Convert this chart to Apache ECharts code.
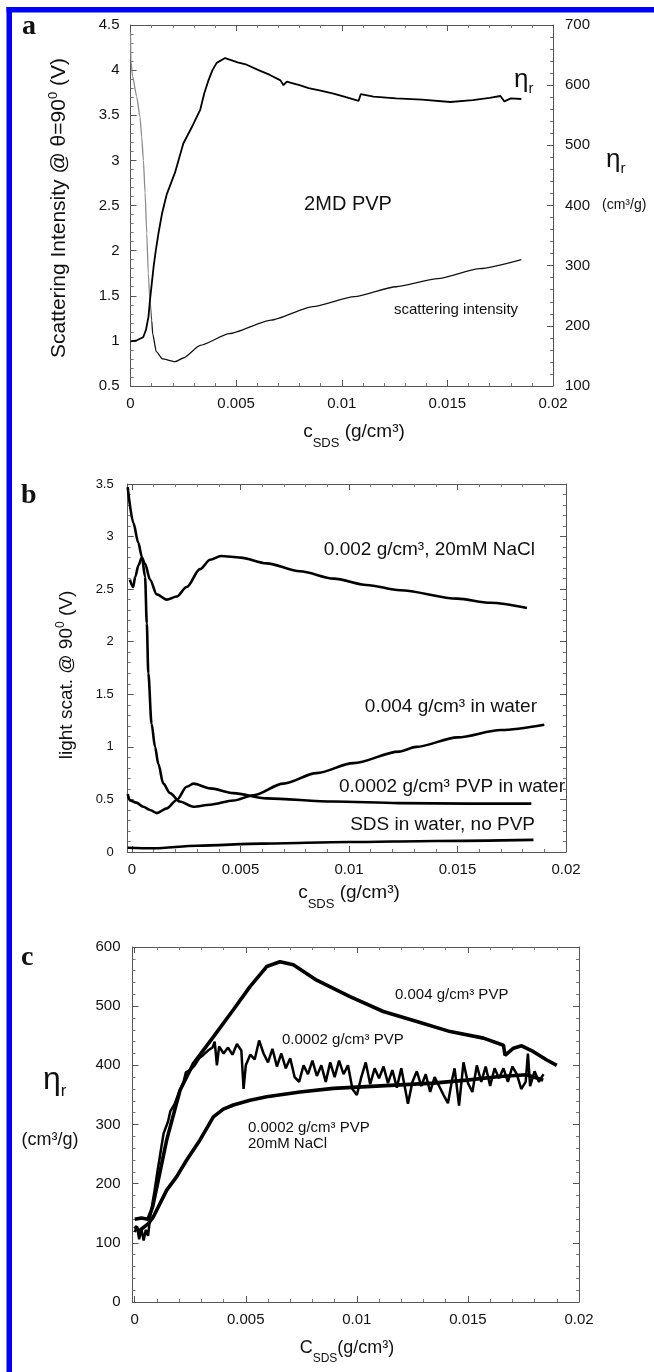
<!DOCTYPE html>
<html><head><meta charset="utf-8">
<script src="https://cdn.jsdelivr.net/npm/echarts@6/dist/echarts.min.js"></script>
<style>html,body{margin:0;padding:0;background:#fff}#c{width:654px;height:1372px}</style>
</head><body><div id="c"></div>
<script>
const FONT = 'Liberation Sans';
const SERIF = 'Liberation Serif';

// ---------------- tick labels ----------------
const xTickValues = [0, 0.005, 0.01, 0.015, 0.02];
const xTickLabels = ['0', '0.005', '0.01', '0.015', '0.02'];

// ---------------- panel a (2MD PVP) ----------------
// scattering intensity (V), left axis
const aScatter = [[0,4.42],[0.00002,4.1],[0.0001,3.93],[0.00029,3.71],[0.00045,3.48],[0.00053,3.26],[0.00061,3.0],[0.00069,2.64],[0.00077,2.19],[0.00084,1.75],[0.00092,1.45],[0.001,1.23],[0.00105,1.08],[0.00122,0.88],[0.00152,0.80],[0.00211,0.77],[0.0025,0.81],[0.0033,0.95],[0.00468,1.08],[0.00665,1.23],[0.00863,1.38],[0.0106,1.49],[0.01257,1.60],[0.01455,1.69],[0.01653,1.80],[0.0185,1.90]];
const aScatterGreyUntil = 0.00105; // faint (grey) descending branch
// reduced viscosity eta_r (cm3/g), right axis
const aEta = [[0,174],[0.0003,176],[0.0006,181],[0.00073,193],[0.00085,215],[0.00092,242],[0.001,268],[0.0011,300],[0.0012,326],[0.00132,353],[0.0015,388],[0.00171,418],[0.00211,455],[0.0025,503],[0.0029,530],[0.0032,552],[0.0033,559],[0.00349,586],[0.00369,608],[0.00388,625],[0.00408,637],[0.00448,645],[0.00507,638],[0.0055,634],[0.00606,625],[0.0066,617],[0.0071,608],[0.00724,600],[0.0074,606],[0.0076,604],[0.008,600],[0.00843,595],[0.009,591],[0.00961,586],[0.0102,580],[0.0108,574],[0.0109,585],[0.0115,581],[0.01257,578],[0.0138,576],[0.01514,572],[0.0162,575],[0.017,579],[0.01751,582],[0.0177,573],[0.018,578],[0.0185,577]];

// ---------------- panel b (light scattering) ----------------
const bNaCl = [[-0.0001,2.59],[0.00005,2.52],[0.00015,2.62],[0.0003,2.73],[0.00045,2.80],[0.0006,2.74],[0.00083,2.59],[0.00114,2.45],[0.0016,2.40],[0.00206,2.43],[0.00252,2.52],[0.00313,2.69],[0.0036,2.78],[0.0041,2.815],[0.005,2.80],[0.0062,2.745],[0.00774,2.67],[0.0093,2.60],[0.0108,2.54],[0.01235,2.49],[0.015,2.41],[0.0165,2.37],[0.0182,2.32]];
const bWater004 = [[-0.0002,3.47],[0.00006,3.13],[0.00029,2.94],[0.00045,2.81],[0.0006,2.62],[0.00068,2.175],[0.00075,1.70],[0.0009,1.22],[0.00106,1.0],[0.00121,0.84],[0.00144,0.65],[0.00175,0.56],[0.0022,0.48],[0.00283,0.43],[0.0036,0.45],[0.00467,0.49],[0.0056,0.54],[0.00697,0.65],[0.0085,0.75],[0.0102,0.845],[0.0123,0.955],[0.0131,1.0],[0.015,1.09],[0.017,1.16],[0.019,1.21]];
const bWater0002 = [[-0.0002,0.55],[-0.0001,0.49],[0.0002,0.47],[0.00052,0.43],[0.00083,0.40],[0.00114,0.37],[0.0016,0.415],[0.00206,0.495],[0.00252,0.62],[0.00283,0.65],[0.0036,0.605],[0.00467,0.56],[0.0062,0.51],[0.0093,0.48],[0.0123,0.465],[0.0155,0.46],[0.0184,0.46]];
const bNoPVP = [[-0.0002,0.04],[0.001,0.035],[0.003,0.06],[0.006,0.08],[0.01,0.095],[0.014,0.105],[0.0185,0.115]];

// ---------------- panel c (reduced viscosity) ----------------
const cPVP004 = [[0,140],[0.0003,142],[0.0006,140],[0.0008,160],[0.001,195],[0.00144,274],[0.00204,358],[0.00264,403],[0.00354,448],[0.00444,494],[0.00519,533],[0.00594,567],[0.00654,575],[0.00714,570],[0.00819,544],[0.00969,516],[0.01119,491],[0.0127,474],[0.0142,457],[0.0157,446],[0.0166,434],[0.01667,417],[0.01705,429],[0.01742,433],[0.01795,423],[0.01855,409],[0.019,400]];
const cPVP0002 = [[0,118],[0.0001,128],[0.0002,106],[0.0003,124],[0.0004,104],[0.0005,122],[0.0006,112],[0.0007,144],[0.0009,190],[0.001,215],[0.0012,262],[0.0013,285],[0.0015,305],[0.0016,322],[0.0018,335],[0.002,355],[0.0022,372],[0.0023,388],[0.0025,392],[0.0027,400],[0.0029,412],[0.0031,418],[0.0033,425],[0.0035,430],[0.0036,440],[0.0037,400],[0.0038,432],[0.004,420],[0.0042,430],[0.0044,418],[0.0046,436],[0.0048,425],[0.0049,360],[0.005,400],[0.0052,418],[0.0054,410],[0.0056,442],[0.0058,420],[0.006,405],[0.0062,428],[0.0064,398],[0.0066,420],[0.0068,395],[0.007,412],[0.0072,380],[0.0074,372],[0.0076,400],[0.0078,385],[0.008,408],[0.0082,382],[0.0084,400],[0.0086,372],[0.0088,405],[0.009,380],[0.0092,408],[0.0094,385],[0.0096,400],[0.0098,360],[0.01,350],[0.0102,380],[0.0104,405],[0.0106,368],[0.0108,395],[0.011,378],[0.0112,398],[0.0114,370],[0.0116,392],[0.0118,362],[0.012,395],[0.0123,335],[0.0125,372],[0.0127,390],[0.0129,365],[0.0131,385],[0.0133,355],[0.0135,380],[0.0137,365],[0.0139,350],[0.0141,336],[0.0143,378],[0.0144,395],[0.0146,332],[0.0148,405],[0.015,370],[0.0152,355],[0.0154,400],[0.0156,372],[0.0158,398],[0.016,365],[0.0162,395],[0.0164,378],[0.0166,395],[0.0168,372],[0.017,398],[0.0172,385],[0.0174,360],[0.0176,372],[0.0177,420],[0.0178,365],[0.018,390],[0.0182,372],[0.0184,385]];
const cNaCl0002 = [[0,128],[0.0002,120],[0.0004,126],[0.0006,132],[0.00084,144],[0.00144,189],[0.00189,212],[0.00234,240],[0.00294,274],[0.00354,313],[0.00399,326],[0.00444,333],[0.00519,341],[0.00594,347],[0.00744,355],[0.00894,361],[0.01044,364],[0.01194,367],[0.01344,370],[0.01494,375],[0.01644,381],[0.01764,384],[0.01839,375]];

// ---------------- helpers ----------------
const xMinorValues = [];
for (let k = 1; k < 20; k++) if (k % 5) xMinorValues.push(k / 1000);
const fmtX = v => { const i = xTickValues.findIndex(t => Math.abs(t - v) < 1e-9); return i >= 0 ? xTickLabels[i] : ''; };

const LINE = {show: true, onZero: false, lineStyle: {color: '#555', width: 1}};
const TICK = {show: true, inside: true, length: 6, lineStyle: {color: '#555', width: 1}};
const MINOR = {show: true, splitNumber: 5, length: 3, lineStyle: {color: '#777', width: 1}};
const NOSPLIT = {show: false};

function xMajor(grid, min, pos, showLabel, fs) {
  return {type: 'value', gridIndex: grid, min: min, max: 0.02, position: pos,
    axisLine: LINE, splitLine: NOSPLIT,
    axisTick: Object.assign({}, TICK, {customValues: xTickValues}),
    axisLabel: {show: showLabel, customValues: xTickValues, formatter: fmtX, color: '#111', fontFamily: FONT, fontSize: fs, margin: 10}};
}
function xMinor(grid, min, pos) {
  return {type: 'value', gridIndex: grid, min: min, max: 0.02, position: pos,
    axisLine: {show: false, onZero: false}, splitLine: NOSPLIT,
    axisTick: {show: true, inside: true, length: 3, lineStyle: {color: '#777'}, customValues: xMinorValues},
    axisLabel: {show: false}};
}
function yAx(grid, min, max, interval, pos, showLabel, fs, margin) {
  return {type: 'value', gridIndex: grid, min: min, max: max, interval: interval, position: pos,
    axisLine: LINE, axisTick: TICK, minorTick: MINOR, splitLine: NOSPLIT, minorSplitLine: NOSPLIT,
    axisLabel: {show: showLabel, color: '#111', fontFamily: FONT, fontSize: fs, margin: margin, padding: [8, 0, 0, 0]}};
}

const xAxes = [
  // panel a
  {type: 'value', gridIndex: 0, min: 0, max: 0.02, interval: 0.005, position: 'bottom',
   axisLine: LINE, axisTick: TICK, minorTick: MINOR, splitLine: NOSPLIT, minorSplitLine: NOSPLIT,
   axisLabel: {formatter: fmtX, color: '#111', fontFamily: FONT, fontSize: 15, margin: 10}},
  {type: 'value', gridIndex: 0, min: 0, max: 0.02, interval: 0.005, position: 'top',
   axisLine: LINE, axisTick: TICK, minorTick: MINOR, splitLine: NOSPLIT, minorSplitLine: NOSPLIT,
   axisLabel: {show: false}},
  // panel b
  xMajor(1, -0.0002, 'bottom', true, 15), xMinor(1, -0.0002, 'bottom'),
  xMajor(1, -0.0002, 'top', false, 15), xMinor(1, -0.0002, 'top'),
  // panel c
  xMajor(2, -0.0001, 'bottom', true, 15), xMinor(2, -0.0001, 'bottom'),
  xMajor(2, -0.0001, 'top', false, 15), xMinor(2, -0.0001, 'top')
];
const yAxes = [
  yAx(0, 0.5, 4.5, 0.5, 'left', true, 15, 11),
  yAx(0, 100, 700, 100, 'right', true, 15, 12),
  yAx(1, 0, 3.5, 0.5, 'left', true, 13, 14),
  yAx(1, 0, 3.5, 0.5, 'right', false, 13, 8),
  yAx(2, 0, 600, 100, 'left', true, 15, 12),
  yAx(2, 0, 600, 100, 'right', false, 15, 8)
];

function line(name, data, xi, yi, width, smooth, color) {
  return {name: name, type: 'line', data: data, xAxisIndex: xi, yAxisIndex: yi,
    showSymbol: false, symbol: 'none', smooth: smooth, smoothMonotone: 'x',
    lineStyle: {color: color || '#000', width: width}, z: 3};
}

// grey-to-black colour for the scattering curve (faint descending branch)
const aX0 = aScatter[0][0], aX1 = aScatter[aScatter.length - 1][0];
const aStop = (aScatterGreyUntil - aX0) / (aX1 - aX0);
const aScatterColor = new echarts.graphic.LinearGradient(0, 0, 1, 0, [
  {offset: 0, color: '#8c8c8c'}, {offset: aStop, color: '#8c8c8c'},
  {offset: Math.min(1, aStop + 0.004), color: '#111'}, {offset: 1, color: '#111'}]);

const series = [
  line('scattering intensity', aScatter, 0, 0, 1.3, 0.2, aScatterColor),
  line('eta_r', aEta, 0, 1, 1.8, 0),
  line('0.002 g/cm3, 20mM NaCl', bNaCl, 2, 2, 2.6, 0.3),
  line('0.004 g/cm3 in water', bWater004, 2, 2, 2.6, 0.3),
  line('0.0002 g/cm3 PVP in water', bWater0002, 2, 2, 2.6, 0.3),
  line('SDS in water, no PVP', bNoPVP, 2, 2, 2.6, 0.3),
  line('0.004 g/cm3 PVP', cPVP004, 6, 4, 3.6, 0),
  line('0.0002 g/cm3 PVP', cPVP0002, 6, 4, 2.5, 0),
  line('0.0002 g/cm3 PVP 20mM NaCl', cNaCl0002, 6, 4, 3.6, 0)
];

// ---------------- texts ----------------
function txt(x, y, text, opt) {
  opt = opt || {};
  return {type: 'text', x: x, y: y, rotation: opt.rot || 0, z: 10,
    style: Object.assign({text: text, fill: '#111', fontFamily: opt.ff || FONT, fontSize: opt.fs || 15,
      fontWeight: opt.fw || 'normal', align: opt.align || 'left', verticalAlign: 'middle',
      textAlign: opt.align || 'left', textVerticalAlign: 'middle'}, opt.rich ? {rich: opt.rich} : {})};
}
function richSet(main, sub, down, up) {
  return {
    m: {fontSize: main, fontFamily: FONT, fill: '#111'},
    d: {fontSize: sub, fontFamily: FONT, fill: '#111', padding: [down || 0, 0, 0, 0]},
    u: {fontSize: sub, fontFamily: FONT, fill: '#111', padding: [0, 0, up || 0, 0]}
  };
}

const graphics = [
  // blue frame
  {type: 'rect', shape: {x: 6.5, y: 7, width: 648, height: 5.5}, style: {fill: '#0000ff'}, z: 20},
  {type: 'rect', shape: {x: 6.5, y: 7, width: 5.5, height: 1365}, style: {fill: '#0000ff'}, z: 20},
  // panel letters
  txt(22, 27, 'a', {fs: 28, fw: 'bold', ff: SERIF}),
  txt(21, 496, 'b', {fs: 28, fw: 'bold', ff: SERIF}),
  txt(21, 958, 'c', {fs: 28, fw: 'bold', ff: SERIF}),
  // panel a
  txt(59, 208, '{m|Scattering Intensity @ θ=90}{u|0}{m| (V)}', {rot: Math.PI / 2, align: 'center', rich: richSet(21, 13, 0, 12)}),
  txt(354, 432, '{m|c}{d|SDS}{m| (g/cm³)}', {align: 'center', rich: richSet(19, 13, 22, 0)}),
  txt(606, 160, '{m|η}{d|r}', {rich: richSet(26, 15, 18, 0)}),
  txt(602, 205, '(cm³/g)', {fs: 14}),
  txt(514, 80, '{m|η}{d|r}', {rich: richSet(26, 15, 18, 0)}),
  txt(348, 204, '2MD PVP', {fs: 20, align: 'center'}),
  txt(456, 310, 'scattering intensity', {fs: 15, align: 'center'}),
  // panel b
  txt(67, 675, '{m|light scat. @ 90}{u|0}{m| (V)}', {rot: Math.PI / 2, align: 'center', rich: richSet(19, 12, 0, 12)}),
  txt(349, 893, '{m|c}{d|SDS}{m| (g/cm³)}', {align: 'center', rich: richSet(19, 13, 22, 0)}),
  txt(535, 550, '0.002 g/cm³, 20mM NaCl', {fs: 19, align: 'right'}),
  txt(537, 707, '0.004 g/cm³ in water', {fs: 19, align: 'right'}),
  txt(565, 787, '0.0002 g/cm³ PVP in water', {fs: 19, align: 'right'}),
  txt(535, 825, 'SDS in water, no PVP', {fs: 19, align: 'right'}),
  // panel c
  txt(43, 1080, '{m|η}{d|r}', {rich: richSet(32, 17, 22, 0)}),
  txt(50, 1140, '(cm³/g)', {fs: 18, align: 'center'}),
  txt(347, 1348, '{m|C}{d|SDS}{m|(g/cm³)}', {align: 'center', rich: richSet(18, 12, 22, 0)}),
  txt(395, 995, '0.004 g/cm³ PVP', {fs: 15}),
  txt(282, 1040, '0.0002 g/cm³ PVP', {fs: 15}),
  txt(248, 1128, '0.0002 g/cm³ PVP', {fs: 15}),
  txt(248, 1144, '20mM NaCl', {fs: 15})
];

const chart = echarts.init(document.getElementById('c'), null, {renderer: 'canvas', width: 654, height: 1372});
chart.setOption({
  animation: false,
  backgroundColor: '#fff',
  grid: [
    {left: 130.5, top: 25, width: 422.5, height: 361, containLabel: false, outerBoundsMode: 'none'},
    {left: 127.7, top: 484, width: 438.3, height: 368, containLabel: false, outerBoundsMode: 'none'},
    {left: 132.5, top: 947, width: 446.5, height: 355, containLabel: false, outerBoundsMode: 'none'}
  ],
  xAxis: xAxes,
  yAxis: yAxes,
  series: series,
  graphic: {elements: graphics}
});
</script></body></html>
